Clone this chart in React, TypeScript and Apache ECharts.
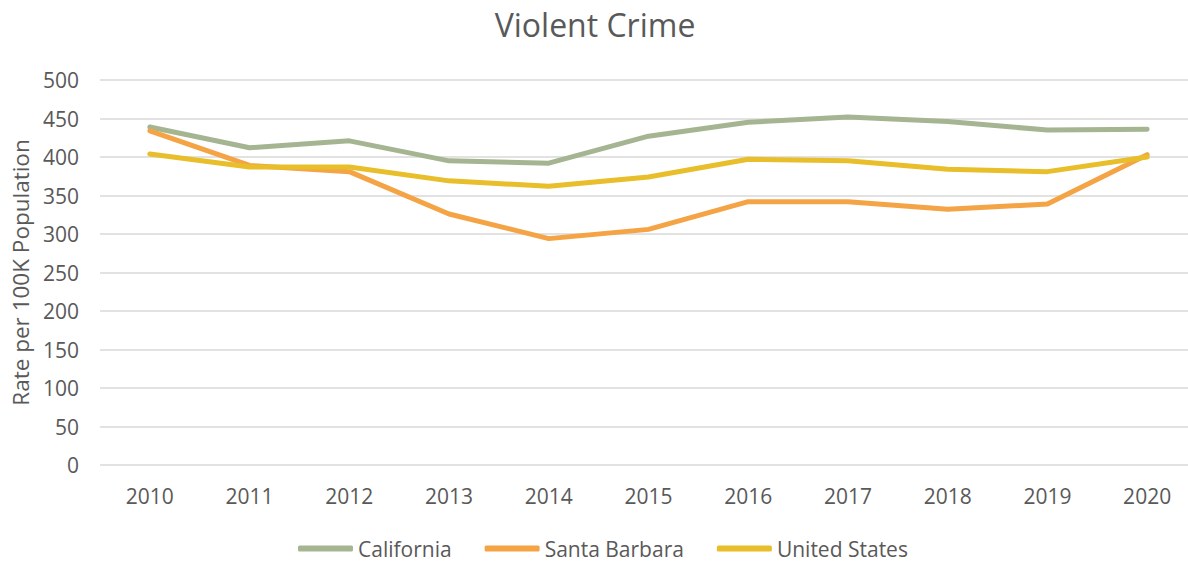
import React, { useEffect, useRef } from "react";
import * as echarts from "echarts";

const years = ["2010", "2011", "2012", "2013", "2014", "2015", "2016", "2017", "2018", "2019", "2020"];
const california = [439, 412, 421, 395, 392, 427, 445, 452, 446, 435, 436];
const santaBarbara = [434, 389, 381, 326, 294, 306, 342, 342, 332, 339, 403];
const unitedStates = [404, 387, 387, 369, 362, 374, 397, 395, 384, 381, 400];

const FONT = "'Open Sans', 'Noto Sans', sans-serif";
const TEXT = "#595959";

export default function App() {
  const ref = useRef<HTMLDivElement>(null);
  useEffect(() => {
    if (!ref.current) return;
    const chart = echarts.init(ref.current, undefined, { renderer: "svg" });
    const mk = (name: string, data: number[], color: string) => ({
      name,
      type: "line",
      data,
      symbol: "none",
      showSymbol: false,
      lineStyle: { width: 5, color, cap: "round", join: "round" },
      itemStyle: { color },
    });
    chart.setOption({
      animation: false,
      backgroundColor: "#ffffff",
      textStyle: { fontFamily: FONT },
      title: {
        text: "Violent Crime",
        left: "center",
        top: 3,
        textStyle: { fontFamily: FONT, fontSize: 32, fontWeight: "normal", color: TEXT },
      },
      legend: {
        left: 298,
        top: 538,
        padding: 0,
        icon: "roundRect",
        itemWidth: 55,
        itemHeight: 6,
        itemGap: 33,
        textStyle: { fontFamily: FONT, fontSize: 21, color: TEXT },
        data: ["California", "Santa Barbara", "United States"],
      },
      grid: { left: 100, right: -7, top: 80, bottom: 96, containLabel: false, outerBoundsMode: "none" },
      xAxis: {
        type: "category",
        data: years,
        boundaryGap: true,
        axisLine: { show: false },
        axisTick: { show: false },
        axisLabel: { fontFamily: FONT, fontSize: 21, color: TEXT, margin: 20 },
      },
      yAxis: {
        type: "value",
        min: 0,
        max: 500,
        interval: 50,
        name: "Rate per 100K Population",
        nameLocation: "middle",
        nameGap: 68,
        nameTextStyle: { fontFamily: FONT, fontSize: 22.5, color: TEXT },
        axisLine: { show: false },
        axisTick: { show: false },
        axisLabel: { fontFamily: FONT, fontSize: 21, color: TEXT, margin: 21 },
        splitLine: { lineStyle: { color: "#D9D9D9", width: 1.5 } },
      },
      series: [
        mk("California", california, "#A5B592"),
        mk("Santa Barbara", santaBarbara, "#F4A444"),
        mk("United States", unitedStates, "#E8BE2B"),
      ],
    });
    return () => chart.dispose();
  }, []);
  return (
    <div style={{ position: "absolute", left: 0, top: 0, width: 1188, height: 561, overflow: "hidden", background: "#fff" }}>
      <div ref={ref} style={{ width: 1190, height: 561 }} />
    </div>
  );
}
